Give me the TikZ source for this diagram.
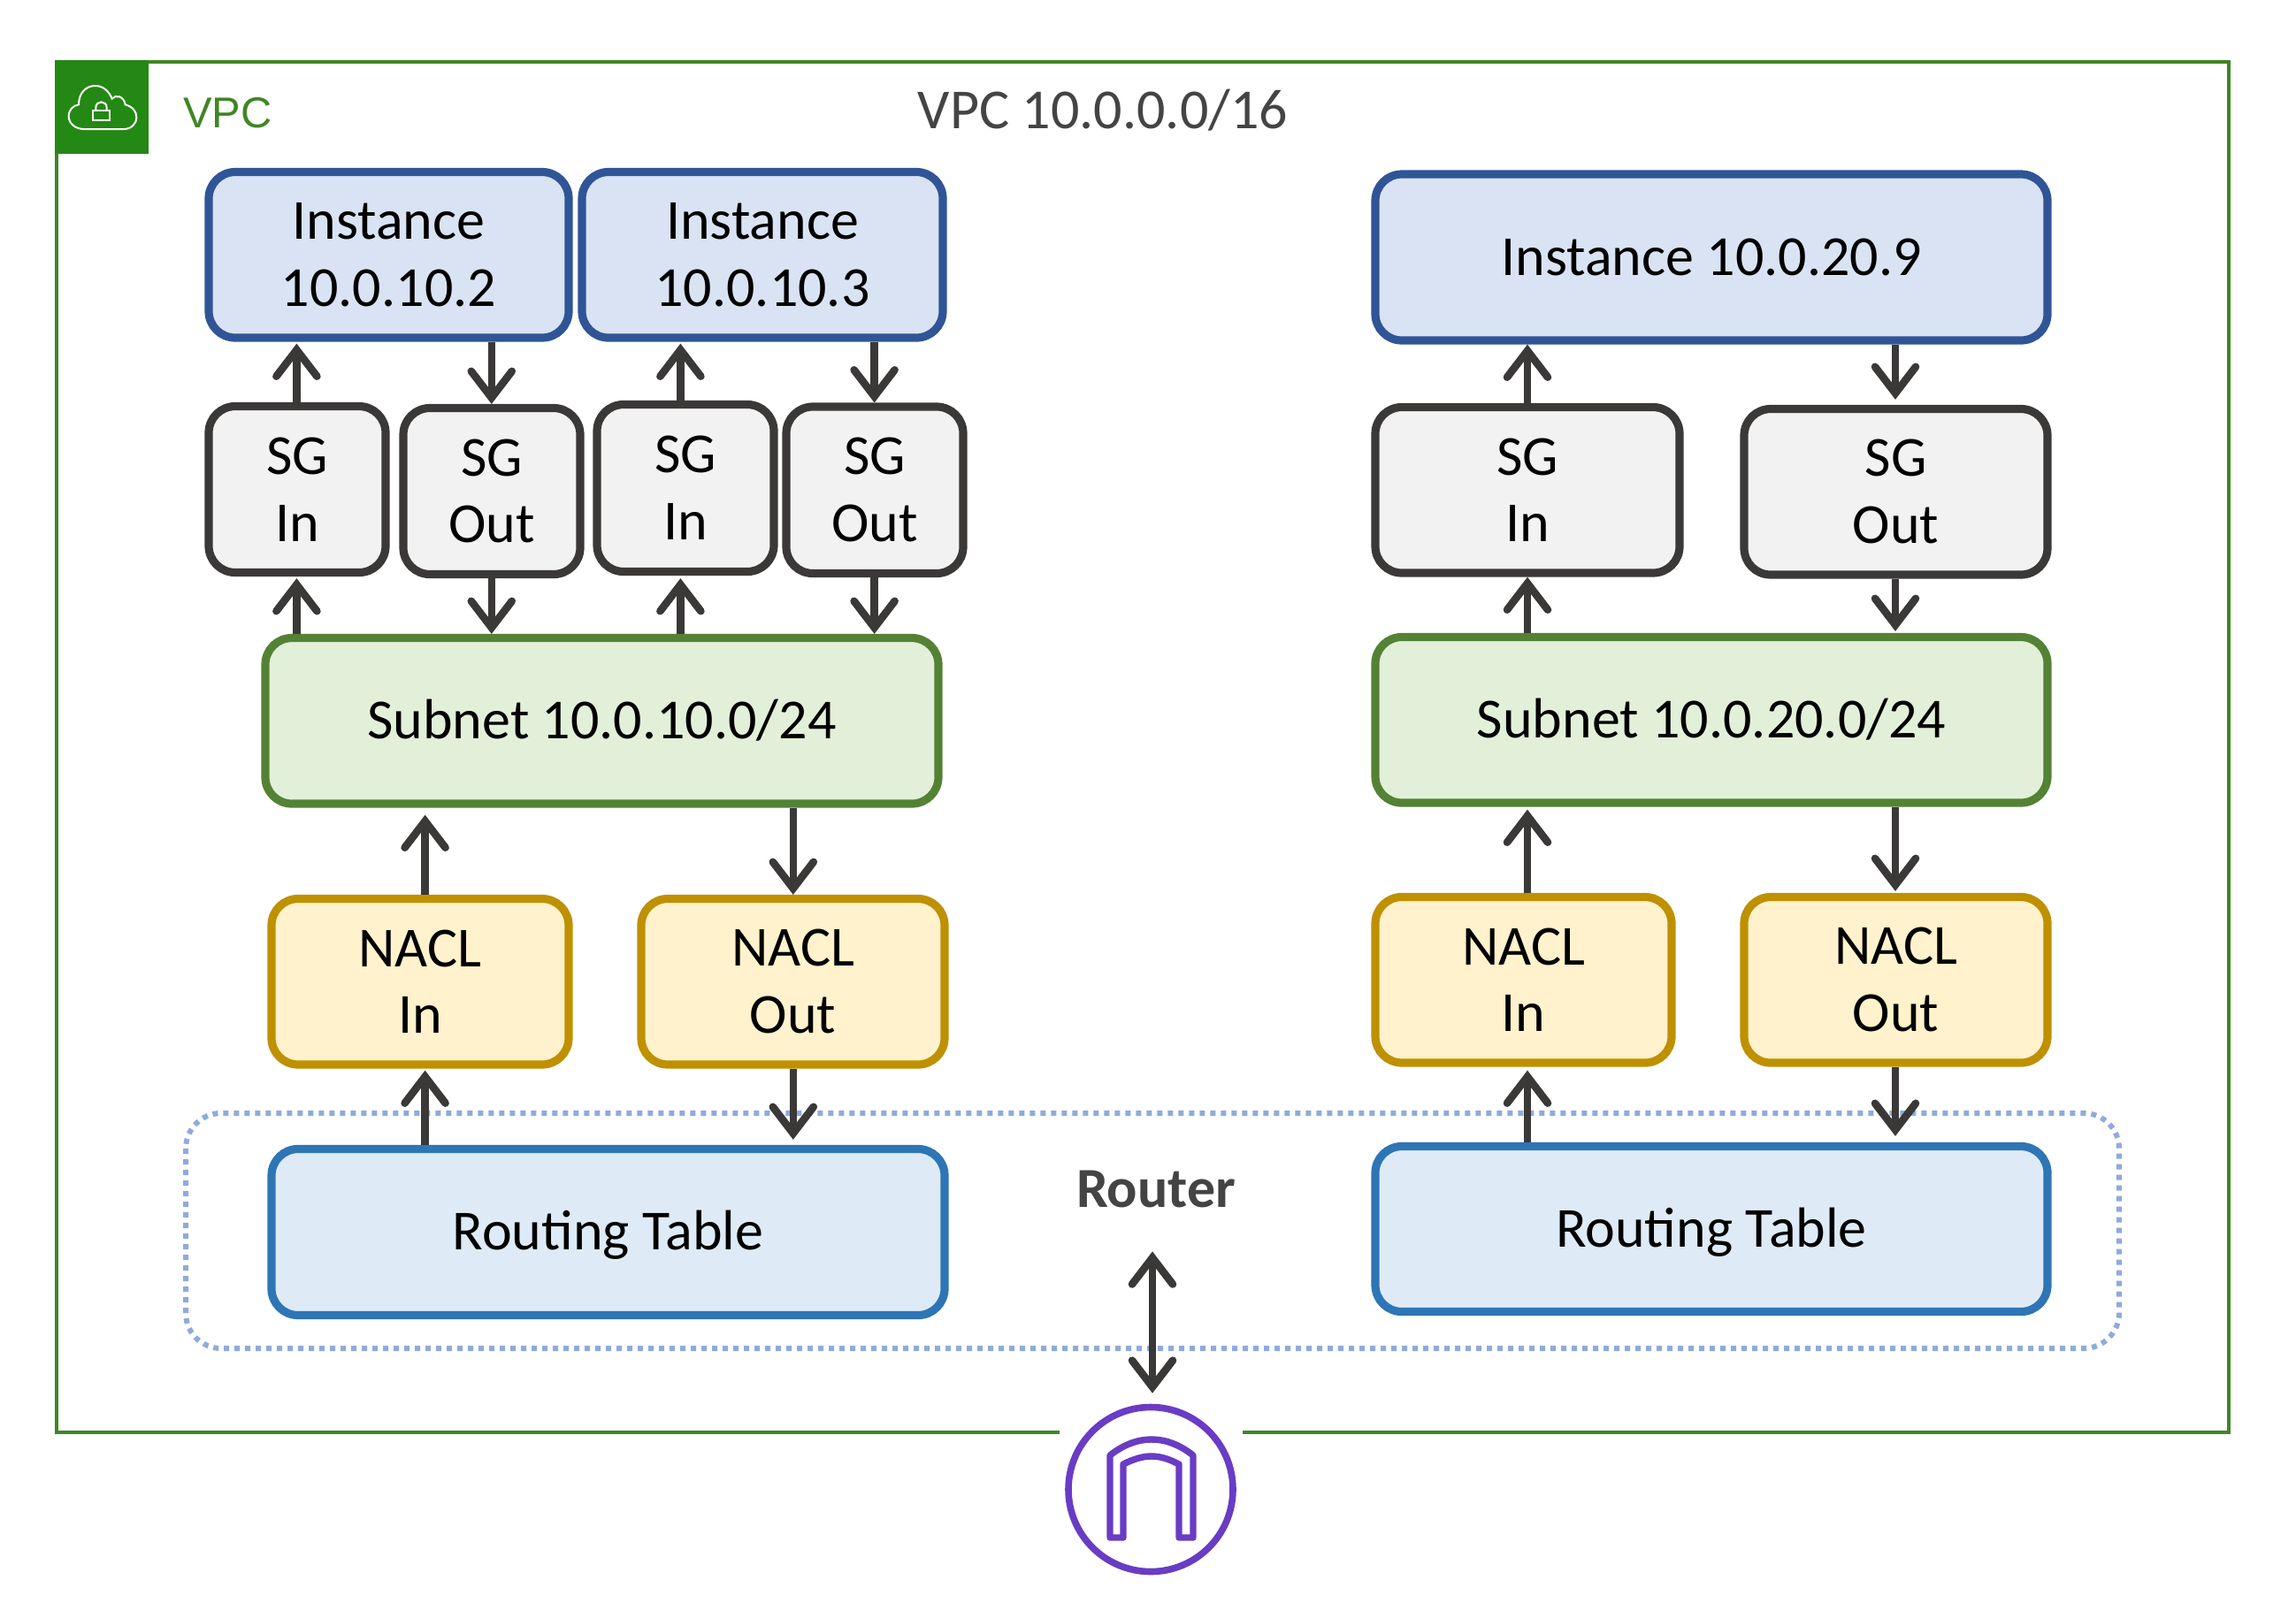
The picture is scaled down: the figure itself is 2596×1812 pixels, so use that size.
\documentclass[tikz,border=0pt]{standalone}
\usepackage{fontspec}
\setmainfont{Carlito}
\newfontfamily\libsans{Liberation Sans}
\usetikzlibrary{arrows.meta}
\definecolor{instF}{HTML}{DAE3F3}\definecolor{instD}{HTML}{2F5597}
\definecolor{sgF}{HTML}{F2F2F2}\definecolor{sgD}{HTML}{3B3838}
\definecolor{subF}{HTML}{E2F0D9}\definecolor{subD}{HTML}{548235}
\definecolor{naclF}{HTML}{FFF2CC}\definecolor{naclD}{HTML}{BF9000}
\definecolor{rtF}{HTML}{DEEBF7}\definecolor{rtD}{HTML}{2E75B6}
\definecolor{dotD}{HTML}{8FAADC}
\definecolor{vpcD}{HTML}{3F8624}\definecolor{vpcF}{HTML}{248814}
\definecolor{igwD}{HTML}{693CC5}\definecolor{txtD}{HTML}{444444}
\tikzset{
  x=0.5pt,y=-0.5pt,
  box/.style={rectangle,rounded corners=15pt,line width=4.6pt,inner sep=0pt,align=center,
    font=\fontsize{32}{37.9}\selectfont,text=black},
  instbox/.style={box,fill=instF,draw=instD},
  sgbox/.style={box,fill=sgF,draw=sgD},
  subbox/.style={box,fill=subF,draw=subD},
  naclbox/.style={box,fill=naclF,draw=naclD},
  rtbox/.style={box,fill=rtF,draw=rtD},
  oneline/.style={text height=20pt,text depth=0pt},
  flow/.style={draw=sgD,line width=4.3pt,-{Straight Barb[length=15pt,width=23pt,line cap=round]}},
  dflow/.style={draw=sgD,line width=4.3pt,{Straight Barb[length=15pt,width=23pt,line cap=round]}-{Straight Barb[length=15pt,width=23pt,line cap=round]}},
}
\newcommand{\bx}[7]{%
  \pgfmathsetmacro{\bcx}{(#3+#5)/2}\pgfmathsetmacro{\bcy}{(#4+#6)/2}%
  \pgfmathsetmacro{\bw}{(#5-#3)*0.5}\pgfmathsetmacro{\bh}{(#6-#4)*0.5}%
  \node[#2,minimum width=\bw pt,minimum height=\bh pt] (#1) at (\bcx,\bcy) {#7};}
\begin{document}
\begin{tikzpicture}
\useasboundingbox (0,0) rectangle (2596,1812);
% VPC frame
\draw[vpcD,line width=2.2pt] (1198,1620) -- (64,1620) -- (64,70) -- (2520,70) -- (2520,1620) -- (1405,1620);
\fill[vpcF] (62,68) rectangle (168,174);
\begin{scope}[shift={(40,50)},x=0.16667pt,y=-0.16667pt,white,line width=1pt]
\draw (165,288) .. controls (135,288) and (113,268) .. (113,245)
  .. controls (113,222) and (128,208) .. (147,205)
  .. controls (147,165) and (172,141) .. (203,141)
  .. controls (230,141) and (250,160) .. (260,185)
  .. controls (272,170) and (300,175) .. (305,205)
  .. controls (330,212) and (343,228) .. (343,248)
  .. controls (343,270) and (325,288) .. (300,288) -- cycle;
\draw (195,224) rectangle (252,258);
\draw (205,224) -- (205,215) .. controls (205,190) and (242,190) .. (242,215) -- (242,224);
\end{scope}
\node[font=\libsans\fontsize{24.4}{28}\selectfont,text=vpcD,anchor=base west,inner sep=0pt] (vpclabel) at (207,144) {VPC};
\node[font=\fontsize{32}{38}\selectfont,text=txtD,anchor=base,inner sep=0pt] (vpctitle) at (1247,145) {VPC 10.0.0.0/16};
% Router dotted box
\draw[dotD,line width=3pt,dash pattern=on 3pt off 3pt,rounded corners=20pt] (210,1259) rectangle (2396,1525);
% Nodes
\bx{inst1}{instbox}{236}{194.5}{643}{382}{Instance\\10.0.10.2}
\bx{inst2}{instbox}{658}{194.5}{1066}{382}{Instance\\10.0.10.3}
\bx{inst3}{instbox,oneline}{1555}{197}{2315}{385}{Instance 10.0.20.9}
\bx{sg1}{sgbox}{236}{459.5}{436}{647.5}{SG\\In}
\bx{sg2}{sgbox}{456}{461.5}{656}{649.5}{SG\\Out}
\bx{sg3}{sgbox}{675}{457.5}{875}{646.5}{SG\\In}
\bx{sg4}{sgbox}{889}{460}{1089}{648.5}{SG\\Out}
\bx{sg5}{sgbox}{1555}{460.5}{1899}{648}{SG\\In}
\bx{sg6}{sgbox}{1972}{462.5}{2315}{650}{SG\\Out}
\bx{sub1}{subbox,oneline}{300}{721.5}{1061}{909}{Subnet 10.0.10.0/24}
\bx{sub2}{subbox,oneline}{1555}{720.5}{2315}{908}{Subnet 10.0.20.0/24}
\bx{nacl1}{naclbox}{307}{1016.5}{643}{1204}{NACL\\In}
\bx{nacl2}{naclbox}{725}{1016.5}{1068}{1204}{NACL\\Out}
\bx{nacl3}{naclbox}{1555}{1014.5}{1890}{1202}{NACL\\In}
\bx{nacl4}{naclbox}{1972}{1014.5}{2315}{1202}{NACL\\Out}
\bx{rt1}{rtbox,oneline}{307}{1299.5}{1068}{1487.5}{Routing Table}
\bx{rt2}{rtbox,oneline}{1555}{1296.5}{2315}{1483.5}{Routing Table}
\node[font=\bfseries\fontsize{32}{38}\selectfont,text=txtD,anchor=base,inner sep=0pt,text height=20pt,text depth=0pt] (router) at (1307,1365) {Router};
% Internet gateway
\node[circle,draw=igwD,line width=3.8pt,minimum size=93pt,inner sep=0pt] (igw) at (1301,1684.5) {};
\draw[igwD,line width=3.7pt,line join=round]
  (1255,1739) -- (1255,1646) .. controls (1285,1622) and (1319,1622) .. (1349,1646)
  -- (1349,1739) -- (1333,1739) -- (1333,1656) .. controls (1310,1644) and (1294,1644) .. (1270,1656)
  -- (1270,1739) -- cycle;
% Arrow columns
\coordinate (c1) at (335.4,0);\coordinate (c2) at (555.8,0);
\coordinate (c3) at (769.4,0);\coordinate (c4) at (988.6,0);
\coordinate (c5) at (480.6,0);\coordinate (c6) at (896.8,0);
\coordinate (c7) at (1727,0);\coordinate (c8) at (2143,0);
\coordinate (c9) at (1303,0);
\draw[flow,shorten >=1pt] (sg1.north -| c1) -- (inst1.south -| c1);
\draw[flow] (inst1.south -| c2) -- (sg2.north -| c2);
\draw[flow,shorten >=1pt] (sg3.north -| c3) -- (inst2.south -| c3);
\draw[flow] (inst2.south -| c4) -- (sg4.north -| c4);
\draw[flow,shorten >=1pt] (sub1.north -| c1) -- (sg1.south -| c1);
\draw[flow] (sg2.south -| c2) -- (sub1.north -| c2);
\draw[flow,shorten >=1.5pt] (sub1.north -| c3) -- (sg3.south -| c3);
\draw[flow] (sg4.south -| c4) -- (sub1.north -| c4);
\draw[flow,shorten >=4pt] (nacl1.north -| c5) -- (sub1.south -| c5);
\draw[flow] (sub1.south -| c6) -- (nacl2.north -| c6);
\draw[flow,shorten >=1pt] (rt1.north -| c5) -- (nacl1.south -| c5);
\draw[flow,shorten >=3pt] (nacl2.south -| c6) -- (rt1.north -| c6);
\draw[flow] (sg5.north -| c7) -- (inst3.south -| c7);
\draw[flow,shorten >=3pt] (inst3.south -| c8) -- (sg6.north -| c8);
\draw[flow] (sub2.north -| c7) -- (sg5.south -| c7);
\draw[flow,shorten >=1pt] (sg6.south -| c8) -- (sub2.north -| c8);
\draw[flow,shorten >=1.5pt] (nacl3.north -| c7) -- (sub2.south -| c7);
\draw[flow,shorten >=1pt] (sub2.south -| c8) -- (nacl4.north -| c8);
\draw[flow,shorten >=2pt] (rt2.north -| c7) -- (nacl3.south -| c7);
\draw[flow,shorten >=3.5pt] (nacl4.south -| c8) -- (rt2.north -| c8);
\draw[dflow,shorten <=25pt,shorten >=6pt] (router.south -| c9) -- (igw.north -| c9);
\end{tikzpicture}
\end{document}
